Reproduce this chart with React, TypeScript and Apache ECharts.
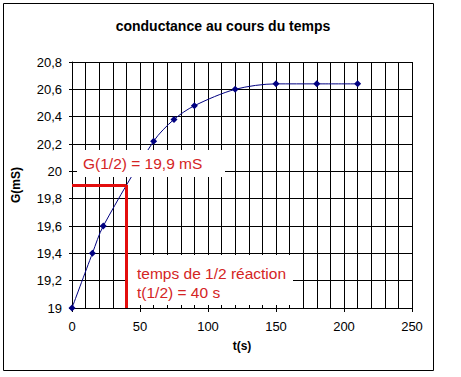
import React, { useEffect, useRef } from "react";
import * as echarts from "echarts";

const times = [0, 15, 23, 60, 75, 90, 120, 150, 180, 210];
const conductance = [19, 19.4, 19.6, 20.22, 20.38, 20.48, 20.6, 20.64, 20.64, 20.64];
const halfTime = 40;
const halfG = 19.9;
const title = "conductance au cours du temps";
const labelG = "G(1/2) = 19,9 mS";
const labelT1 = "temps de 1/2 réaction";
const labelT2 = "t(1/2) = 40 s";

const FONT = "Liberation Sans, Arial, sans-serif";
const RED_LINE = "#e30d0d";
const RED_TEXT = "#d42424";
const NAVY = "#000080";

export default function App() {
  const ref = useRef<HTMLDivElement>(null);
  useEffect(() => {
    document.body.style.margin = "0";
    const chart = echarts.init(ref.current!, null, { renderer: "svg" });
    const data = times.map((t, i) => [t, conductance[i]]);
    chart.setOption({
      animation: false,
      backgroundColor: "#fff",
      textStyle: { fontFamily: FONT },
      title: {
        text: title,
        left: 218,
        top: 14,
        textAlign: "center",
        textStyle: { fontSize: 14, fontWeight: "bold", color: "#000", fontFamily: FONT },
      },
      grid: { left: 72, top: 62, right: 49, bottom: 69 },
      xAxis: {
        type: "value",
        min: 0,
        max: 250,
        interval: 50,
        name: "t(s)",
        nameLocation: "middle",
        nameGap: 32,
        nameTextStyle: { fontSize: 12, fontWeight: "bold", color: "#000", fontFamily: FONT },
        axisLine: { lineStyle: { color: "#000", width: 1 } },
        axisTick: { show: true, length: 4, lineStyle: { color: "#000" } },
        minorTick: { show: true, splitNumber: 5, length: 0 },
        minorSplitLine: { show: true, lineStyle: { color: "#000", width: 1 } },
        splitLine: { show: true, lineStyle: { color: "#000", width: 1 } },
        axisLabel: { fontSize: 13, color: "#000", margin: 12, fontFamily: FONT },
      },
      yAxis: {
        type: "value",
        min: 19,
        max: 20.8,
        interval: 0.2,
        name: "G(mS)",
        nameLocation: "middle",
        nameGap: 50,
        nameTextStyle: { fontSize: 12, fontWeight: "bold", color: "#000", fontFamily: FONT },
        axisLine: { show: true, lineStyle: { color: "#000", width: 1 } },
        axisTick: { show: true, length: 3, lineStyle: { color: "#000" } },
        splitLine: { show: true, lineStyle: { color: "#000", width: 1 } },
        axisLabel: {
          fontSize: 13,
          color: "#000",
          margin: 10,
          fontFamily: FONT,
          formatter: (v: number) => String(Math.round(v * 10) / 10).replace(".", ","),
        },
      },
      series: [
        {
          type: "line",
          data,
          smooth: 0.3,
          symbol: "diamond",
          symbolSize: 7,
          lineStyle: { color: NAVY, width: 1 },
          itemStyle: { color: NAVY },
          markLine: {
            silent: true,
            symbol: "none",
            label: { show: false },
            lineStyle: { color: RED_LINE, width: 3, type: "solid" },
            data: [
              [{ coord: [0, halfG] }, { coord: [halfTime, halfG] }],
              [{ coord: [halfTime, halfG] }, { coord: [halfTime, 19] }],
            ],
          },
        },
      ],
      graphic: [
        {
          type: "rect",
          z: 100,
          shape: { x: 3.5, y: 3.5, width: 430, height: 367 },
          style: { fill: "none", stroke: "#000", lineWidth: 1 },
        },
        {
          type: "rect",
          z: 100,
          shape: { x: 77, y: 150, width: 148, height: 27 },
          style: { fill: "#fff" },
        },
        {
          type: "text",
          z: 101,
          x: 83,
          y: 163,
          style: { text: labelG, fill: RED_TEXT, font: `15.5px ${FONT}`, textVerticalAlign: "middle" },
        },
        {
          type: "rect",
          z: 100,
          shape: { x: 128, y: 255, width: 165, height: 50 },
          style: { fill: "#fff" },
        },
        {
          type: "text",
          z: 101,
          x: 137,
          y: 273,
          style: { text: labelT1, fill: RED_TEXT, font: `15.5px ${FONT}`, textVerticalAlign: "middle" },
        },
        {
          type: "text",
          z: 101,
          x: 137,
          y: 292,
          style: { text: labelT2, fill: RED_TEXT, font: `15.5px ${FONT}`, textVerticalAlign: "middle" },
        },
      ],
    });
    return () => chart.dispose();
  }, []);
  return <div ref={ref} style={{ width: 461, height: 377 }} />;
}
